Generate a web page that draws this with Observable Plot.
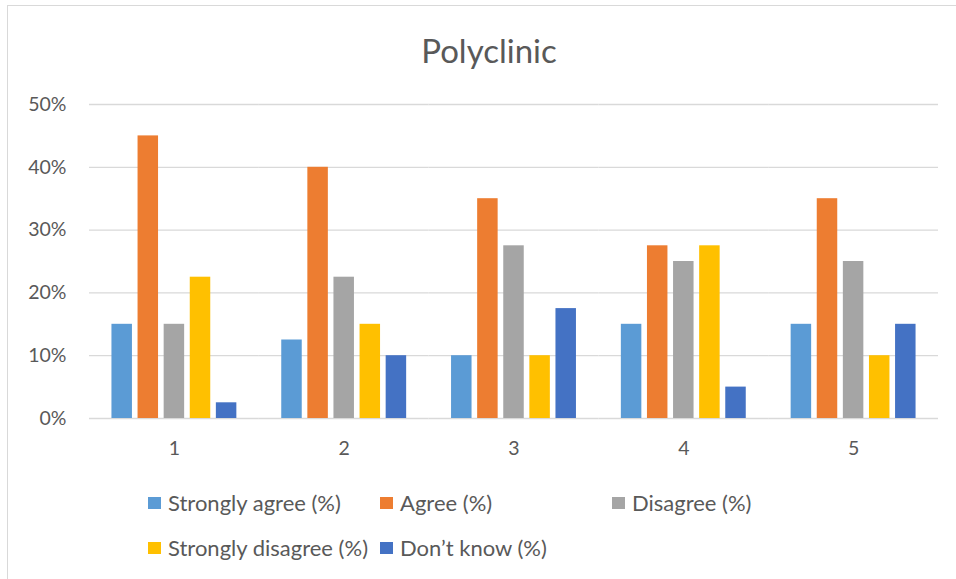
<!DOCTYPE html>
<html>
<head>
<meta charset="utf-8">
<script src="https://cdn.jsdelivr.net/npm/d3@7"></script>
<script src="https://cdn.jsdelivr.net/npm/@observablehq/plot@0.6"></script>
<style>
  html, body { margin: 0; padding: 0; background: #fff; overflow: hidden; }
  #wrap { position: relative; width: 956px; height: 579px; font-family: Lato, "Open Sans", sans-serif; color: #595959; }
  #frame { position: absolute; left: 7px; top: 5px; width: 1000px; height: 700px; border: 1px solid #d9d9d9; box-sizing: border-box; }
  #chart { position: absolute; left: 0; top: 0; }
  #title { position: absolute; left: 0; width: 978px; top: 28px; text-align: center; font-size: 33px; line-height: 44px; }
  .leg { position: absolute; font-size: 22px; line-height: 28px; white-space: nowrap; }
  .sw { position: absolute; width: 13px; height: 12px; }
</style>
</head>
<body>
<div id="wrap">
  <div id="frame"></div>
  <div id="chart"></div>
  <div id="title">Polyclinic</div>
  <div id="legend"></div>
</div>
<script>
const categories = ["1", "2", "3", "4", "5"];
const seriesNames = ["Strongly agree (%)", "Agree (%)", "Disagree (%)", "Strongly disagree (%)", "Don\u2019t know (%)"];
const seriesColors = ["#5B9BD5", "#ED7D31", "#A5A5A5", "#FFC000", "#4472C4"];
const stronglyAgree = [15, 12.5, 10, 15, 15];
const agree = [45, 40, 35, 27.5, 35];
const disagree = [15, 22.5, 27.5, 25, 25];
const stronglyDisagree = [22.5, 15, 10, 27.5, 10];
const dontKnow = [2.5, 10, 17.5, 5, 15];
const yTicks = [0, 0.1, 0.2, 0.3, 0.4, 0.5];

const seriesValues = [stronglyAgree, agree, disagree, stronglyDisagree, dontKnow];
const data = [];
categories.forEach((c, i) => {
  seriesNames.forEach((s, j) => {
    data.push({cat: c, series: s, value: seriesValues[j][i] / 100});
  });
});

const chart = Plot.plot({
  width: 956,
  height: 579,
  marginLeft: 89,
  marginRight: 18,
  marginTop: 104,
  marginBottom: 161,
  style: {fontFamily: "Lato, 'Open Sans', sans-serif", color: "#595959", background: "transparent"},
  fx: {domain: categories, padding: 0, round: false, label: null},
  x: {domain: seriesNames, paddingInner: 0.215, paddingOuter: 0.86, round: false, axis: null},
  y: {domain: [0, 0.5], label: null},
  color: {domain: seriesNames, range: seriesColors},
  marks: [
    Plot.gridY(yTicks, {stroke: "#d9d9d9", strokeOpacity: 1, strokeWidth: 1.3}),
    Plot.axisY(yTicks, {tickSize: 0, tickPadding: 23, tickFormat: d3.format(".0%"), fontSize: 19.5, label: null}),
    Plot.barY(data, {fx: "cat", x: "series", y: "value", fill: "series"}),
    Plot.axisFx({anchor: "bottom", tickSize: 0, tickPadding: 23, fontSize: 19.5, label: null})
  ]
});
document.getElementById("chart").appendChild(chart);

const legendPos = [[148, 503], [380, 503], [612, 503], [148, 548], [380, 548]];
const legend = document.getElementById("legend");
seriesNames.forEach((s, j) => {
  const [x, y] = legendPos[j];
  const sw = document.createElement("div");
  sw.className = "sw";
  sw.style.left = x + "px";
  sw.style.top = (y - 6) + "px";
  sw.style.background = seriesColors[j];
  legend.appendChild(sw);
  const t = document.createElement("div");
  t.className = "leg";
  t.style.left = (x + 20) + "px";
  t.style.top = (y - 14) + "px";
  t.textContent = s;
  legend.appendChild(t);
});
</script>
</body>
</html>
